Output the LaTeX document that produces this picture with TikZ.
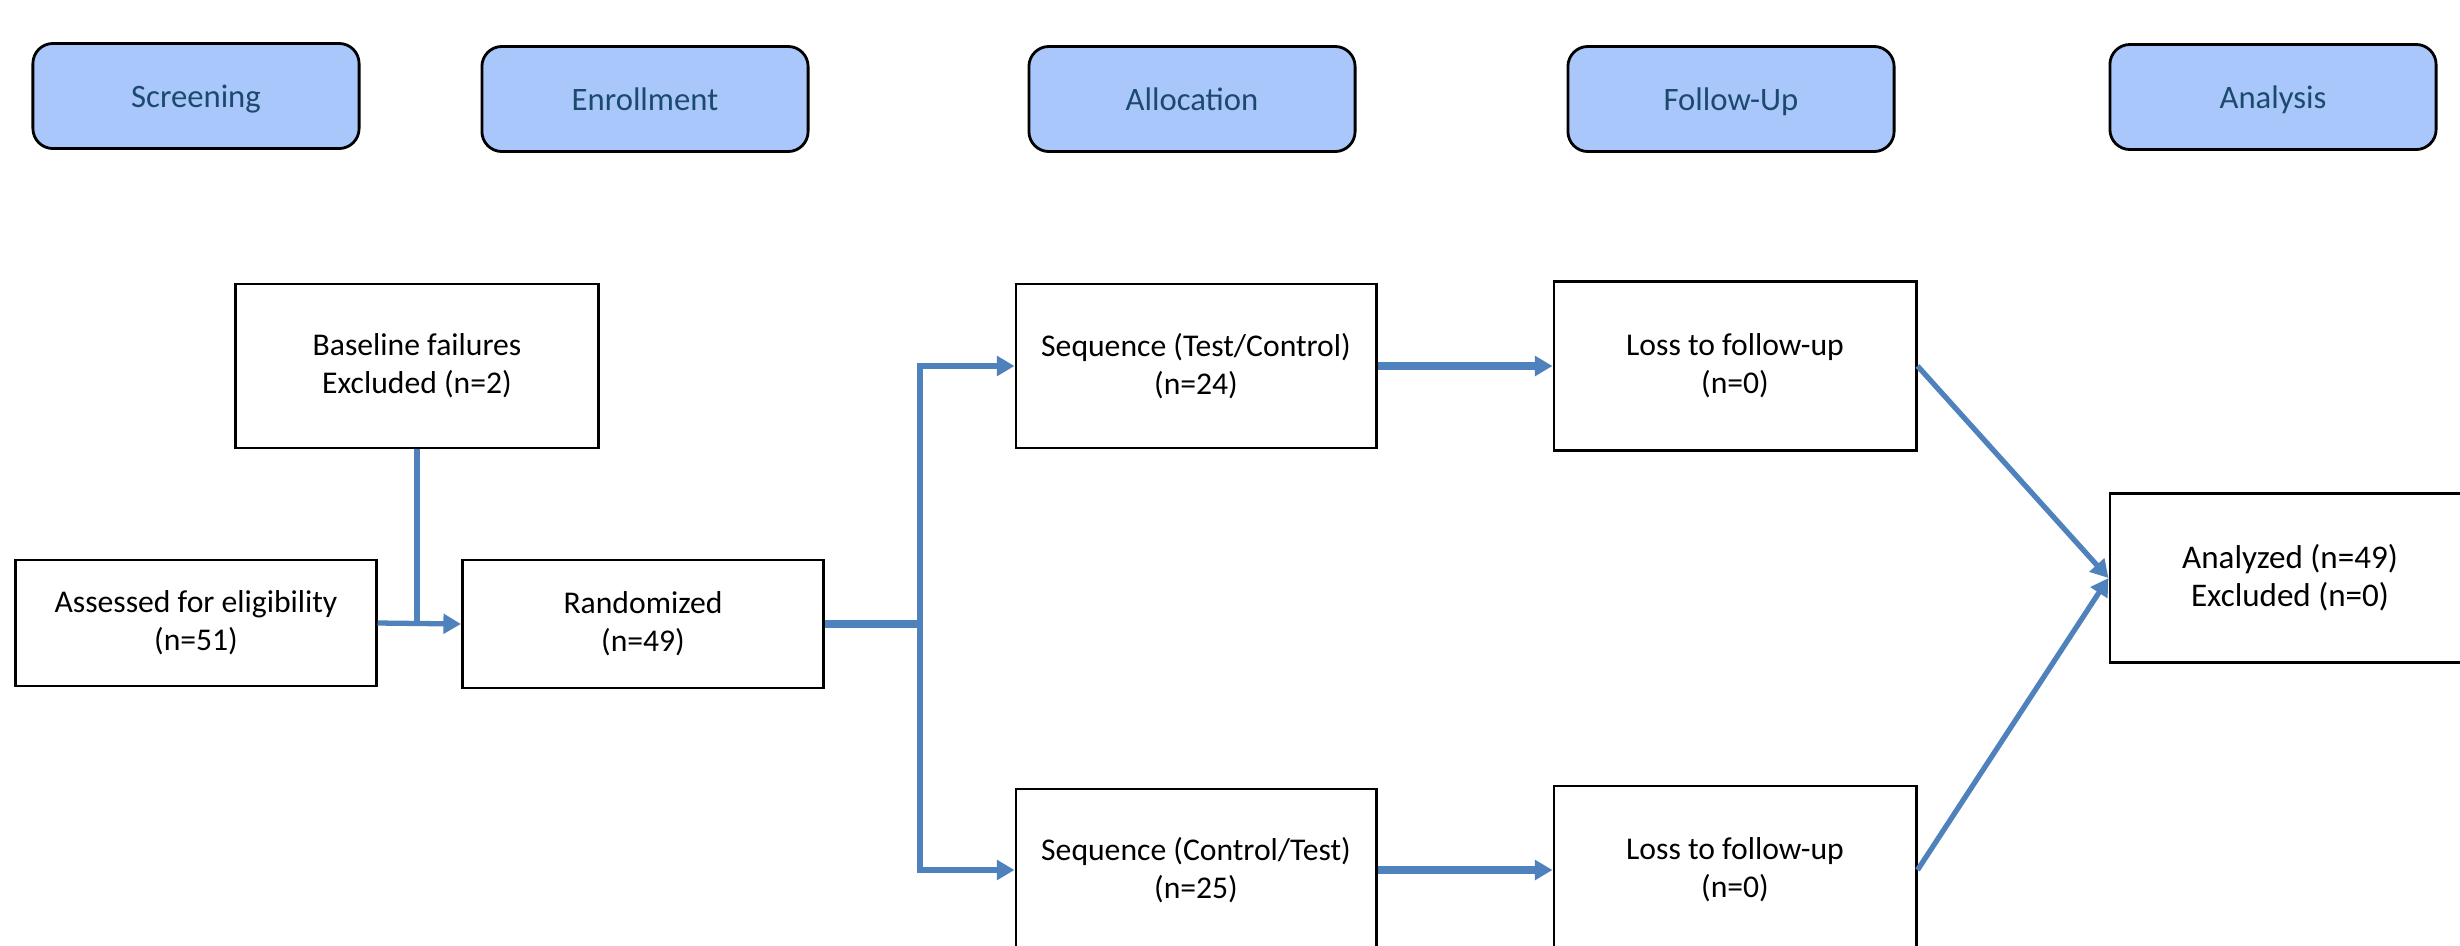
\documentclass[tikz,border=0pt]{standalone}
\usepackage{fontspec}
\setmainfont{Carlito}
\usetikzlibrary{arrows.meta}
\definecolor{hdrfill}{HTML}{A9C7FA}
\definecolor{hdrtext}{HTML}{1C4A6E}
\definecolor{conn}{HTML}{4F81BD}
\begin{document}
\begin{tikzpicture}[x=0.01cm, y=-0.01cm,
  hdr/.style={draw=black, line width=0.8pt, fill=hdrfill, rounded corners=0.2cm,
    minimum width=3.26cm, minimum height=1.05cm, text=hdrtext, inner sep=0pt,
    text height=0.86em, text depth=0.2em,
    font=\fontsize{9.3}{11}\selectfont},
  flowbox/.style={draw=black, line width=0.8pt, align=center, inner sep=0pt,
    font=\fontsize{9}{10.8}\selectfont},
  link/.style={draw=conn, line width=1.5pt},
  arrowlink/.style={link, -{Triangle[length=5pt, width=5.5pt]}},
  thicklink/.style={arrowlink, line width=2pt}
]
\useasboundingbox (0,0) rectangle (2460,945);
\clip (0,0) rectangle (2460,945);

% header boxes
\node[hdr] (hscreen) at (196,96) {Screening};
\node[hdr] (henroll) at (645,99) {Enrollment};
\node[hdr] (halloc)  at (1192,99) {Allocation};
\node[hdr] (hfollow) at (1731,99) {Follow-Up};
\node[hdr] (hanal)   at (2273,97) {Analysis};

% flow boxes
\node[flowbox, minimum width=3.62cm, minimum height=1.64cm] (base) at (417,366)
  {Baseline failures\\Excluded (n=2)};
\node[flowbox, minimum width=3.60cm, minimum height=1.26cm] (assess) at (196,623)
  {Assessed for eligibility\\(n=51)};
\node[flowbox, minimum width=3.61cm, minimum height=1.28cm] (rand) at (643,624)
  {Randomized\\(n=49)};
\node[flowbox, minimum width=3.60cm, minimum height=1.64cm] (seqa) at (1196,366)
  {Sequence (Test/Control)\\(n=24)};
\node[flowbox, minimum width=3.62cm, minimum height=1.69cm] (lossa) at (1735,366)
  {Loss to follow-up\\(n=0)};
\node[flowbox, minimum width=3.60cm, minimum height=1.62cm] (seqb) at (1196,870)
  {Sequence (Control/Test)\\(n=25)};
\node[flowbox, minimum width=3.62cm, minimum height=1.68cm] (lossb) at (1735,870)
  {Loss to follow-up\\(n=0)};
\node[flowbox, minimum width=3.60cm, minimum height=1.69cm,
  font=\fontsize{9.4}{10.9}\selectfont] (anal) at (2290,578)
  {Analyzed (n=49)\\Excluded (n=0)};

% connectors
\coordinate (split) at (920,624);
\draw[arrowlink] (assess.east) -- (rand.west);
\draw[link] (base.south) -- (base.south |- assess.east);
\draw[link, line width=2pt] (rand.east) -- (split);
\draw[arrowlink] (split) |- (seqa.west);
\draw[arrowlink] (split) |- (seqb.west);
\draw[thicklink] (seqa.east) -- (lossa.west);
\draw[thicklink] (seqb.east) -- (lossb.west);
\draw[arrowlink] (lossa.east) -- (anal.west);
\draw[arrowlink] (lossb.east) -- (anal.west);
\end{tikzpicture}
\end{document}
